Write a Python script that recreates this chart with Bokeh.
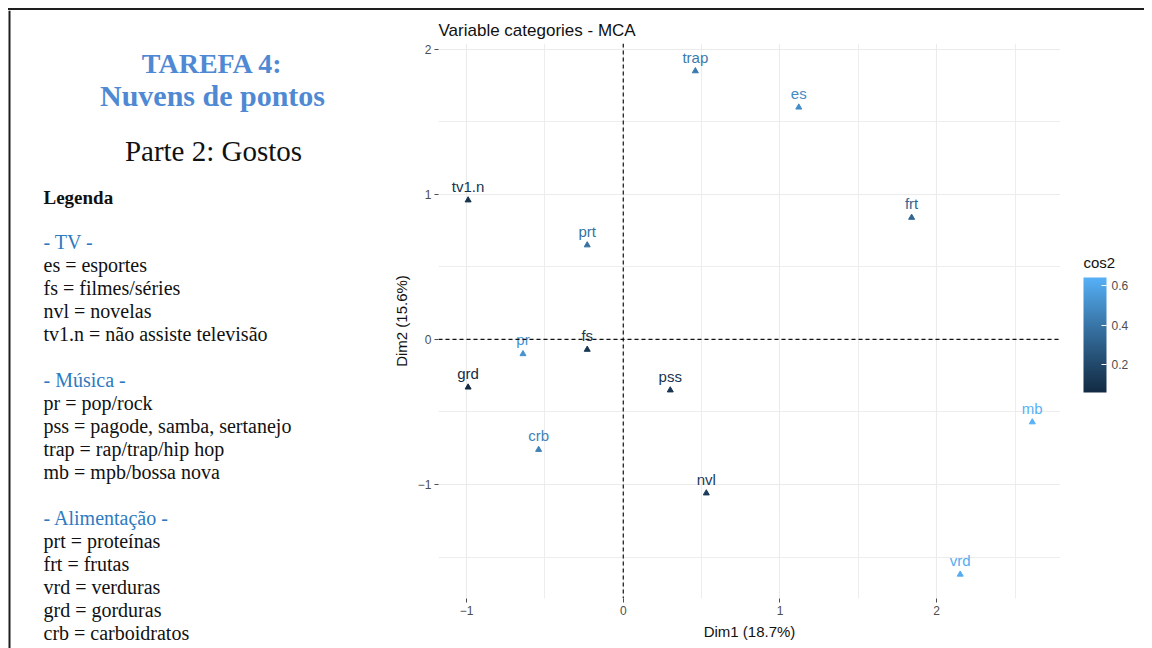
import numpy as np
from bokeh.plotting import figure
from bokeh.layouts import row, column
from bokeh.models import (Range1d, Span, ColumnDataSource, LinearColorMapper, ColorBar,
                          FixedTicker, Div)
from bokeh.transform import transform
from bokeh.core.properties import value
from bokeh.embed import file_html
from bokeh.resources import INLINE

# ---------------- data ----------------
categories = ["trap", "es", "frt", "tv1.n", "prt", "pr", "fs", "grd", "pss", "crb", "nvl", "mb", "vrd"]
dim1 = [0.46, 1.12, 1.84, -0.99, -0.23, -0.64, -0.23, -0.99, 0.30, -0.54, 0.53, 2.61, 2.15]
dim2 = [1.85, 1.60, 0.84, 0.96, 0.65, -0.10, -0.07, -0.33, -0.35, -0.76, -1.06, -0.57, -1.62]
cos2 = [0.42, 0.49, 0.33, 0.10, 0.38, 0.52, 0.12, 0.06, 0.11, 0.45, 0.14, 0.64, 0.62]
x_ticks = [-1, 0, 1, 2]
y_ticks = [-1, 0, 1, 2]
cb_ticks = [0.2, 0.4, 0.6]

tv_items = [("es", "esportes"), ("fs", "filmes/séries"), ("nvl", "novelas"),
            ("tv1.n", "não assiste televisão")]
music_items = [("pr", "pop/rock"), ("pss", "pagode, samba, sertanejo"),
               ("trap", "rap/trap/hip hop"), ("mb", "mpb/bossa nova")]
food_items = [("prt", "proteínas"), ("frt", "frutas"), ("vrd", "verduras"),
              ("grd", "gorduras"), ("crb", "carboidratos")]

# ---------------- ggplot-like gradient (Lab interpolation) ----------------
def _hex2rgb(h):
    h = h.lstrip("#")
    return np.array([int(h[i:i + 2], 16) / 255 for i in (0, 2, 4)])

_M = np.array([[0.4124564, 0.3575761, 0.1804375],
               [0.2126729, 0.7151522, 0.0721750],
               [0.0193339, 0.1191920, 0.9503041]])
_W = np.array([0.95047, 1.0, 1.08883])

def _rgb2lab(rgb):
    lin = np.where(rgb <= 0.04045, rgb / 12.92, ((rgb + 0.055) / 1.055) ** 2.4)
    xyz = _M @ lin / _W
    d = 6 / 29
    f = np.where(xyz > d ** 3, np.cbrt(xyz), xyz / (3 * d * d) + 4 / 29)
    return np.array([116 * f[1] - 16, 500 * (f[0] - f[1]), 200 * (f[1] - f[2])])

def _lab2hex(lab):
    L, a, b = lab
    fy = (L + 16) / 116
    f = np.array([fy + a / 500, fy, fy - b / 200])
    d = 6 / 29
    xyz = np.where(f > d, f ** 3, 3 * d * d * (f - 4 / 29)) * _W
    lin = np.clip(np.linalg.solve(_M, xyz), 0, 1)
    rgb = np.where(lin <= 0.0031308, 12.92 * lin, 1.055 * lin ** (1 / 2.4) - 0.055)
    rgb = np.clip(np.round(rgb * 255), 0, 255).astype(int)
    return "#%02x%02x%02x" % tuple(rgb)

lo, hi = _rgb2lab(_hex2rgb("#132B43")), _rgb2lab(_hex2rgb("#56B1F7"))
palette = [_lab2hex(lo + (hi - lo) * t) for t in np.linspace(0, 1, 256)]
mapper = LinearColorMapper(palette=palette, low=min(cos2), high=max(cos2))

SANS = "Liberation Sans"
SERIF = "Liberation Serif"
BORDER = "#1e1e1e"
TOP = 10       # height of the strip holding the slide's top border
H = 648 - TOP  # height of the main row


def blank(width, height, xr, yr):
    f = figure(width=width, height=height, min_border=0, x_axis_type=None, y_axis_type=None,
               x_range=Range1d(*xr), y_range=Range1d(*yr), toolbar_location=None,
               output_backend="svg", outline_line_color=None)
    f.xgrid.visible = False
    f.ygrid.visible = False
    return f


# ---------------- top border strip ----------------
top_bar = Div(text="", width=1144 - 8, height=2, margin=(8, 0, 0, 8),
              styles={"background-color": BORDER})

# ---------------- left text panel (page pixels) ----------------
left = blank(378, H, (0, 378), (648, TOP))
left.segment(x0=[9], y0=[TOP], x1=[9], y1=[648], line_color=BORDER, line_width=2)

def add_text(x, y, text, size, color="#111111", style="normal", align="left"):
    left.text(x=[x], y=[y], text=[text], text_font=value(SERIF), text_font_size=size,
              text_font_style=style, text_color=color, text_align=align,
              text_baseline="middle")

add_text(212, 63, "TAREFA 4:", "28px", "#4f89d3", "bold", "center")
add_text(212, 95, "Nuvens de pontos", "30px", "#4f89d3", "bold", "center")
add_text(213, 150, "Parte 2: Gostos", "29px", align="center")
add_text(43, 197, "Legenda", "19px", style="bold")

y = 241
for head, items in (("- TV -", tv_items), ("- Música -", music_items),
                    ("- Alimentação -", food_items)):
    add_text(43, y, head, "20px", "#2e7ac0")
    y += 23
    for ab, full in items:
        add_text(43, y, f"{ab} = {full}", "20px")
        y += 23
    y += 23

# ---------------- MCA plot ----------------
p = figure(frame_width=622, frame_height=555, min_border_left=60, min_border_right=0,
           min_border_top=43 - TOP, min_border_bottom=648 - 598,
           x_range=Range1d(-1.179, 2.79), y_range=Range1d(-1.786, 2.04),
           toolbar_location=None, output_backend="svg", outline_line_color=None,
           title="Variable categories - MCA")
p.title.text_font = SANS
p.title.text_font_size = "17px"
p.title.text_font_style = "normal"
p.title.text_color = "#111111"
p.title.standoff = 7

for ax, ticks, lab in ((p.xaxis[0], x_ticks, "Dim1 (18.7%)"), (p.yaxis[0], y_ticks, "Dim2 (15.6%)")):
    minors = [t + 0.5 * k for t in ticks for k in (-1, 1)]
    ax.ticker = FixedTicker(ticks=ticks, minor_ticks=sorted(set(minors)))
    ax.axis_line_color = None
    ax.major_tick_line_color = "#4d4d4d"
    ax.major_tick_out = 4
    ax.major_tick_in = 0
    ax.minor_tick_line_color = None
    ax.major_label_text_color = "#4d4d4d"
    ax.major_label_text_font = SANS
    ax.major_label_text_font_size = "12px"
    ax.major_label_standoff = 3
    ax.axis_label = lab
    ax.axis_label_text_font = SANS
    ax.axis_label_text_font_size = "15px"
    ax.axis_label_text_font_style = "normal"
    ax.axis_label_text_color = "#111111"
    ax.axis_label_standoff = 5

for g in (p.xgrid[0], p.ygrid[0]):
    g.grid_line_color = "#ebebeb"
    g.grid_line_width = 1.1
    g.minor_grid_line_color = "#ebebeb"
    g.minor_grid_line_width = 0.9

p.add_layout(Span(location=0, dimension="height", line_color="#111111", line_dash="4 3", line_width=1.2))
p.add_layout(Span(location=0, dimension="width", line_color="#111111", line_dash="4 3", line_width=1.2))

src = ColumnDataSource(dict(x=dim1, y=dim2, cos2=cos2, label=categories))
p.scatter("x", "y", source=src, marker="triangle", size=6,
          fill_color=transform("cos2", mapper), line_color=transform("cos2", mapper))
p.text("x", "y", text="label", source=src, text_font=value(SANS), text_font_size="15px",
       text_align="center", text_baseline="alphabetic", y_offset=-14,
       text_color=transform("cos2", mapper))

# ---------------- colour legend (page pixels) ----------------
leg = blank(84, H, (1060, 1144), (648, TOP))
leg.text(x=[1083], y=[262], text=["cos2"], text_font=value(SANS), text_font_size="15px",
         text_color="#111111", text_align="left", text_baseline="middle")
cb = ColorBar(color_mapper=mapper, ticker=FixedTicker(ticks=cb_ticks), width=23, height=115,
              major_label_text_font=SANS, major_label_text_font_size="12px",
              major_label_text_color="#4d4d4d", label_standoff=5,
              major_tick_line_color="white", major_tick_in=5, major_tick_out=0,
              minor_tick_line_color=None, bar_line_color=None, border_line_color=None,
              background_fill_color=None, padding=0, margin=0, location=(23, 648 - 392))
leg.add_layout(cb, "center")

for fig in (left, p, leg):
    if "frame_align" in fig.properties():
        fig.frame_align = False

layout = column(top_bar, row(left, p, leg, spacing=0), spacing=0)
open("out.html", "w").write(file_html(layout, INLINE))
